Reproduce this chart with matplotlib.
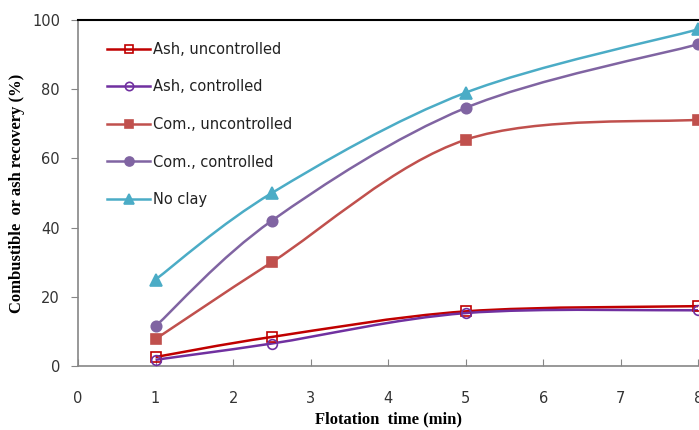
import numpy as np
import matplotlib.pyplot as plt
from matplotlib.path import Path
from matplotlib.patches import PathPatch

# flotation time (min)
t = [1, 2.5, 5, 8]

ash_unc = [2.6, 8.4, 15.8, 17.3]
ash_con = [1.8, 6.5, 15.3, 16.1]
com_unc = [7.8, 30.0, 65.4, 71.2]
com_con = [11.5, 42.0, 74.6, 93.0]
no_clay = [25.0, 50.0, 79.0, 97.3]


def smooth_path(x, y):
    # Excel-style smoothed line: cubic Bezier through the points
    p = np.column_stack([x, y]).astype(float)
    pp = np.vstack([p[0], p, p[-1]])
    verts = [p[0]]
    codes = [Path.MOVETO]
    for i in range(1, len(pp) - 2):
        c1 = pp[i] + (pp[i + 1] - pp[i - 1]) / 6
        c2 = pp[i + 1] - (pp[i + 2] - pp[i]) / 6
        verts += [c1, c2, pp[i + 1]]
        codes += [Path.CURVE4] * 3
    return Path(verts, codes)


fig = plt.figure(figsize=(6.99, 4.30), dpi=100)
ax = fig.add_axes([0.1116, 0.1488, 0.8874, 0.8047])

series = [
    ('Ash, uncontrolled', ash_unc, '#C00000', 's', 'none', 7),
    ('Ash, controlled', ash_con, '#7030A0', 'o', 'none', 7),
    ('Com., uncontrolled', com_unc, '#C0504D', 's', '#C0504D', 7),
    ('Com., controlled', com_con, '#8064A2', 'o', '#8064A2', 7.5),
    ('No clay', no_clay, '#4BACC6', '^', '#4BACC6', 8),
]

for lab, y, c, m, fc, ms in series:
    ax.add_patch(PathPatch(smooth_path(t, y), fc='none', ec=c, lw=1.8, zorder=2))
    ax.plot(t, y, ls='none', marker=m, ms=ms, mfc=fc, mec=c, mew=1.2,
            zorder=3, clip_on=False)
    ax.plot([], [], color=c, lw=1.8, marker=m, ms=ms - 1, mfc=fc, mec=c,
            mew=1.2, label=lab)

ax.set_xlim(0, 8)
ax.set_ylim(0, 100)
ax.set_xticks(range(0, 9))
ax.set_yticks(range(0, 101, 20))

for s in ['left', 'bottom']:
    ax.spines[s].set_color('#868686')
    ax.spines[s].set_linewidth(1.2)
ax.spines['top'].set_color('black')
ax.spines['top'].set_linewidth(1.5)
ax.spines['right'].set_visible(False)

ax.tick_params(axis='x', direction='in', length=5, color='#868686',
               pad=18, labelsize=10.5, labelcolor='#333333')
ax.tick_params(axis='y', direction='out', length=5, color='#868686',
               pad=8, labelsize=10.5, labelcolor='#333333')

ax.set_xlabel('Flotation  time (min)', family='Liberation Serif',
              fontweight='bold', fontsize=12, labelpad=4)
ax.set_ylabel('Combustible  or ash recovery (%)', family='Liberation Serif',
              fontweight='bold', fontsize=12, labelpad=5)

ax.legend(loc='upper left', bbox_to_anchor=(0.025, 0.975), frameon=False,
          fontsize=10.5, handlelength=3.0, handletextpad=0.15,
          labelspacing=1.55, labelcolor='#222222')

fig.savefig('out.png', dpi=100)
